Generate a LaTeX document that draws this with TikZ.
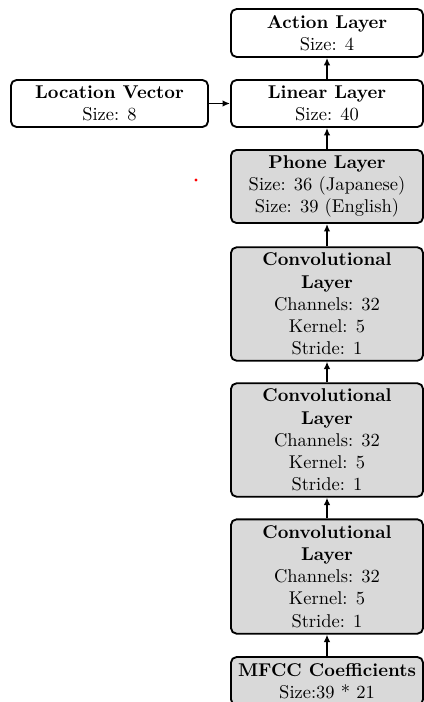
\documentclass[tikz,border=0pt]{standalone}
\usetikzlibrary{arrows.meta}
\begin{document}
\begin{tikzpicture}[x=0.5405pt,y=-0.5405pt,
  box/.style={draw=black, line width=1pt, rounded corners=3pt, align=center, inner sep=0pt, minimum width=103.8pt},
  grey/.style={fill=gray!30},
  arr/.style={-{Latex[length=4pt,width=3.5pt]}, line width=0.9pt}]
\useasboundingbox (0,0) rectangle (423,702);
\node[box, minimum height=25.9pt] (action) at (327,33) {\textbf{Action Layer}\\Size: 4};
\node[box, minimum height=25.4pt] (linear) at (327,103.5) {\textbf{Linear Layer}\\Size: 40};
\node[box, minimum height=25.4pt, minimum width=106.5pt] (location) at (109.5,103.5) {\textbf{Location Vector}\\Size: 8};
\node[box, grey, minimum height=39.5pt] (phone) at (327,186.5) {\textbf{Phone Layer}\\Size: 36 (Japanese)\\Size: 39 (English)};
\node[box, grey, minimum height=61.3pt] (conv1) at (327,304) {\textbf{Convolutional}\\\textbf{Layer}\\Channels: 32\\Kernel: 5\\Stride: 1};
\node[box, grey, minimum height=61.3pt] (conv2) at (327,440) {\textbf{Convolutional}\\\textbf{Layer}\\Channels: 32\\Kernel: 5\\Stride: 1};
\node[box, grey, minimum height=61.8pt] (conv3) at (327,576.5) {\textbf{Convolutional}\\\textbf{Layer}\\Channels: 32\\Kernel: 5\\Stride: 1};
\node[box, grey, minimum height=25.9pt] (mfcc) at (327,681) {\textbf{MFCC Coefficients}\\Size:39 * 21};
\fill[red] (196,180) circle (0.9pt);
\draw[arr] (linear) -- (action);
\draw[arr] (location) -- (linear);
\draw[arr] (phone) -- (linear);
\draw[arr] (conv1) -- (phone);
\draw[arr] (conv2) -- (conv1);
\draw[arr] (conv3) -- (conv2);
\draw[arr] (mfcc) -- (conv3);
\end{tikzpicture}
\end{document}
